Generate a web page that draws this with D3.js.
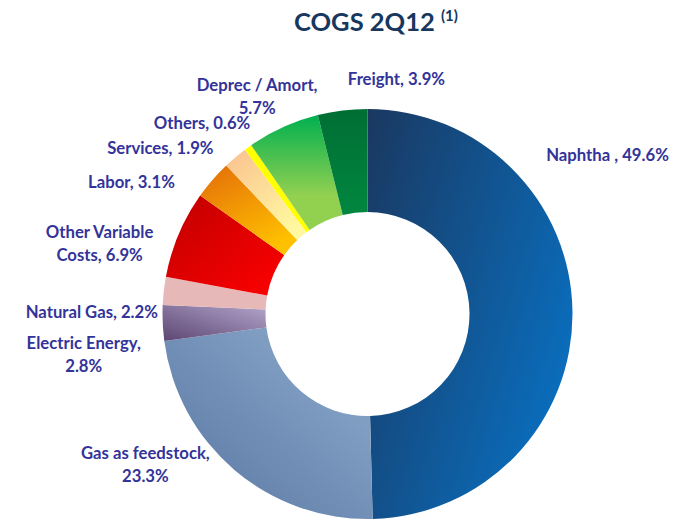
<html>
<head>
<script src="https://d3js.org/d3.v7.min.js"></script>
<style>
  body { margin: 0; background: white; }
  svg { display: block; }
  .lbl { font: bold 16.7px Lato, sans-serif; fill: #333399; }
  .title { font: bold 25.5px Lato, sans-serif; fill: #17375e; }
</style>
</head>
<body>
<svg width="682" height="523"></svg>
<script>
// values, clockwise from 12 o'clock
var categories = ["Naphtha ", "Gas as feedstock", "Electric Energy", "Natural Gas", "Other Variable Costs",
                  "Labor", "Services", "Others", "Deprec / Amort", "Freight"];
var shares = [49.6, 23.3, 2.8, 2.2, 6.9, 3.1, 1.9, 0.6, 5.7, 3.9];
// label text lines
var labelLines = [
  ["Naphtha , 49.6%"],
  ["Gas as feedstock,", "23.3%"],
  ["Electric Energy,", "2.8%"],
  ["Natural Gas, 2.2%"],
  ["Other Variable", "Costs, 6.9%"],
  ["Labor, 3.1%"],
  ["Services, 1.9%"],
  ["Others, 0.6%"],
  ["Deprec / Amort,", "5.7%"],
  ["Freight, 3.9%"]
];

var width = 682, height = 523;
var cx = 367.5, cy = 314, outerR = 205, innerR = 102;

// gradient stops and directions per slice
var fills = [
  {from: "#1a3860", to: "#0a6dbc", x1: 0, y1: 0, x2: 1, y2: 0.6},
  {from: "#90adcf", to: "#5674a0", x1: 1, y1: 0, x2: 0, y2: 1},
  {from: "#b3a5cb", to: "#5c4672", x1: 1, y1: 0, x2: 0, y2: 1},
  {from: "#e6b9b8", to: "#e6b9b8", x1: 0, y1: 0, x2: 1, y2: 0},
  {from: "#c00000", to: "#ff0000", x1: 0, y1: 0, x2: 1, y2: 1},
  {from: "#e36c09", to: "#ffc000", x1: 0, y1: 0, x2: 0.6, y2: 1},
  {from: "#fac090", to: "#fff8a0", x1: 0, y1: 0, x2: 0.6, y2: 1},
  {from: "#ffff00", to: "#ffff00", x1: 0, y1: 0, x2: 1, y2: 0},
  {from: "#00b050", to: "#92d050", x1: 0, y1: 0, x2: 0, y2: 0.7},
  {from: "#006e33", to: "#00873f", x1: 0, y1: 0, x2: 0, y2: 1}
];
// label nudges from the outer edge at the slice mid-angle
var labelNudge = [[35, -156], [-89, -5], [-79, 32], [-72, 21], [-79, 9],
                  [-81, 2], [-75, -9], [-46, -24], [-26, -31], [54, -31]];

var svg = d3.select("svg");
var defs = svg.append("defs");
fills.forEach(function(f, i) {
  var g = defs.append("linearGradient").attr("id", "g" + i)
    .attr("x1", f.x1).attr("y1", f.y1).attr("x2", f.x2).attr("y2", f.y2);
  g.append("stop").attr("offset", 0).attr("stop-color", f.from);
  g.append("stop").attr("offset", 1).attr("stop-color", f.to);
});

var pie = d3.pie().sort(null).value(d => d);
var arcs = pie(shares);
var arc = d3.arc().innerRadius(innerR).outerRadius(outerR);

var g = svg.append("g").attr("transform", "translate(" + cx + "," + cy + ")");
g.selectAll("path").data(arcs).enter()
  .append("path")
  .attr("d", arc)
  .attr("fill", (d, i) => "url(#g" + i + ")");

var lg = g.selectAll("text.lbl").data(arcs).enter()
  .append("text")
  .attr("class", "lbl")
  .attr("text-anchor", "middle")
  .attr("transform", function(d, i) {
    var a = (d.startAngle + d.endAngle) / 2;
    var x = outerR * Math.sin(a) + labelNudge[i][0];
    var y = -outerR * Math.cos(a) + labelNudge[i][1];
    return "translate(" + x + "," + y + ")";
  });
lg.each(function(d, i) {
  var lines = labelLines[i];
  var t = d3.select(this);
  lines.forEach(function(s, k) {
    t.append("tspan").attr("x", 0)
      .attr("y", (k - (lines.length - 1) / 2) * 23)
      .attr("dy", "0.35em")
      .text(s);
  });
});

var title = svg.append("text").attr("class", "title")
  .attr("x", 376).attr("y", 31).attr("text-anchor", "middle");
title.append("tspan").text("COGS 2Q12 ");
title.append("tspan").attr("font-size", "15px").attr("dy", "-10").text("(1)");
</script>
</body>
</html>
